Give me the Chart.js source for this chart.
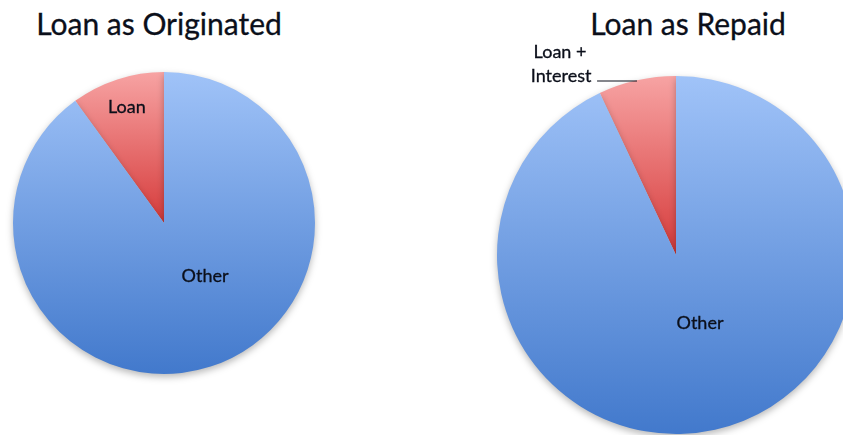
<!DOCTYPE html>
<html>
<head>
<meta charset="utf-8">
<script src="https://cdn.jsdelivr.net/npm/chart.js@4.4.1/dist/chart.umd.min.js"></script>
<style>
  html, body { margin: 0; padding: 0; background: #fff; overflow: hidden; }
  body { width: 843px; height: 435px; position: relative; }
  .title { position: absolute; top: 5px; font-family: Lato, "Open Sans", sans-serif; font-size: 30px; color: #0b0f1a; white-space: nowrap; transform: translateX(-50%); -webkit-text-stroke: 0.3px #0b0f1a; }
  .box { position: absolute; top: 0; height: 435px; }
</style>
</head>
<body>
<div class="title" style="left:159px">Loan as Originated</div>
<div class="title" style="left:688px">Loan as Repaid</div>
<div class="box" style="left:0;width:421px"><canvas id="pie-orig"></canvas></div>
<div class="box" style="left:421px;width:450px"><canvas id="pie-repaid"></canvas></div>
<script>
// slice labels and values
const origLabels = ['Loan', 'Other'];
const origValues = [10, 90];
const repaidLabels = ['Loan + Interest', 'Other'];
const repaidValues = [7, 93];

// vertical gradient per slice, like the old Excel fill
function sliceFill(ctx) {
    const chart = ctx.chart;
    const area = chart.chartArea;
    if (!area) return null;
    const c = chart.ctx;
    const midY = (area.top + area.bottom) / 2;
    if (ctx.dataIndex === 0) {
        const g = c.createLinearGradient(0, area.top, 0, midY);
        g.addColorStop(0, '#f7a3a3');
        g.addColorStop(1, '#d63b3b');
        return g;
    }
    const g = c.createLinearGradient(0, area.top, 0, area.bottom);
    g.addColorStop(0, '#a0c3f8');
    g.addColorStop(1, '#4279cc');
    return g;
}

// labels placed in radius units from the pie centre
const labelPlugin = {
    id: 'sliceLabels',
    beforeDatasetsDraw(chart) {
        const c = chart.ctx;
        c.save();
        c.shadowColor = 'rgba(0,0,0,0.28)';
        c.shadowBlur = 7;
        c.shadowOffsetY = 3;
    },
    afterDatasetsDraw(chart, args, opts) {
        const c = chart.ctx;
        c.restore();
        const arc = chart.getDatasetMeta(0).data[0];
        const { x, y, outerRadius: r } = arc.getProps(['x', 'y', 'outerRadius'], true);
        c.save();
        c.fillStyle = '#0b0f1a';
        c.strokeStyle = '#0b0f1a';
        c.font = '18px Lato, "Open Sans", sans-serif';
        c.textAlign = 'center';
        c.textBaseline = 'middle';
        c.lineWidth = 0.3;
        (opts.items || []).forEach(it => {
            c.fillText(it.text, x + it.dx * r, y + it.dy * r);
            c.strokeText(it.text, x + it.dx * r, y + it.dy * r);
        });
        c.lineWidth = 1.2;
        (opts.lines || []).forEach(l => {
            c.beginPath();
            c.moveTo(x + l[0] * r, y + l[1] * r);
            c.lineTo(x + l[2] * r, y + l[3] * r);
            c.stroke();
        });
        c.restore();
    }
};

function makePie(id, labels, values, padding, items, lines) {
    const total = values.reduce((a, b) => a + b, 0);
    return new Chart(document.getElementById(id), {
        type: 'pie',
        data: {
            labels: labels,
            datasets: [{
                data: values,
                backgroundColor: sliceFill,
                borderWidth: 0,
                hoverOffset: 0
            }]
        },
        options: {
            responsive: true,
            maintainAspectRatio: false,
            animation: false,
            // first slice ends at 12 o'clock, running counter-clockwise
            rotation: -360 * values[0] / total,
            layout: { padding: padding },
            plugins: {
                legend: { display: false },
                tooltip: { enabled: false },
                sliceLabels: { items: items, lines: lines }
            }
        },
        plugins: [labelPlugin]
    });
}

makePie('pie-orig', origLabels, origValues,
    { left: 13, top: 72, right: 106, bottom: 61 },
    [
        { text: origLabels[0], dx: -0.246, dy: -0.767 },
        { text: origLabels[1], dx: 0.272, dy: 0.355 }
    ], []);

makePie('pie-repaid', repaidLabels, repaidValues,
    { left: 76, top: 76, right: 16, bottom: 1 },
    [
        { text: 'Loan +', dx: -0.648, dy: -1.134 },
        { text: 'Interest', dx: -0.642, dy: -1.0 },
        { text: repaidLabels[1], dx: 0.134, dy: 0.38 }
    ],
    [[-0.441, -0.972, -0.218, -0.972]]);
</script>
</body>
</html>
